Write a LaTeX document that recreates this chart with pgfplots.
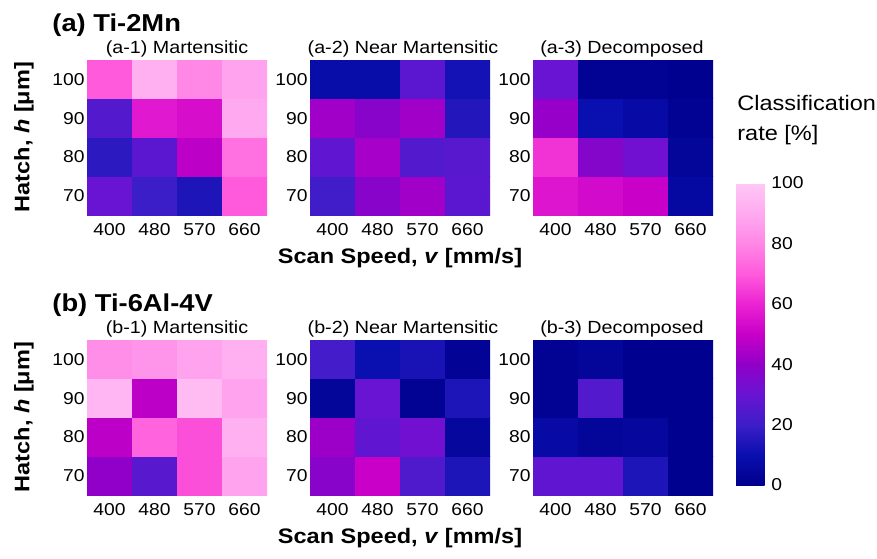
\documentclass[border=0pt]{standalone}
\usepackage{fontspec}
\setmainfont{Liberation Sans}[FakeStretch=1.12]
\usepackage{pgfplots}
\usepackage{pgfplotstable}
\pgfplotsset{compat=1.18}

\pgfplotstableread{
x y c
0 0 30
1 0 20
2 0 14
3 0 70
0 1 17
1 1 27
2 1 48
3 1 75
0 2 25
1 2 57
2 2 54
3 2 90
0 3 70
1 3 92
2 3 80
3 3 88
}\tabAone
\pgfplotstableread{
x y c
0 0 21
1 0 38
2 0 43
3 0 27
0 1 28
1 1 44
2 1 25
3 1 26
0 2 43
1 2 38
2 2 43
3 2 15
0 3 8
1 3 8
2 3 27
3 3 12
}\tabAtwo
\pgfplotstableread{
x y c
0 0 56
1 0 53
2 0 50
3 0 6
0 1 63
1 1 37
2 1 32
3 1 4
0 2 41
1 2 10
2 2 7
3 2 2
0 3 30
1 3 2
2 3 2
3 3 1
}\tabAthree
\pgfplotstableread{
x y c
0 0 40
1 0 26
2 0 68
3 0 88
0 1 48
1 1 72
2 1 68
3 1 92
0 2 94
1 2 48
2 2 96
3 2 88
0 3 82
1 3 84
2 3 88
3 3 92
}\tabBone
\pgfplotstableread{
x y c
0 0 38
1 0 50
2 0 24
3 0 14
0 1 42
1 1 28
2 1 32
3 1 5
0 2 4
1 2 30
2 2 2
3 2 14
0 3 22
1 3 10
2 3 13
3 3 3
}\tabBtwo
\pgfplotstableread{
x y c
0 0 28
1 0 28
2 0 14
3 0 1
0 1 7
1 1 4
2 1 5
3 1 1
0 2 2
1 2 25
2 2 1
3 2 1
0 3 2
1 3 4
2 3 1
3 3 1
}\tabBthree

\pgfplotsset{
  colormap={cm}{rgb255(0)=(0,0,140) rgb255(10)=(10,15,175) rgb255(20)=(60,30,200)
    rgb255(30)=(105,20,210) rgb255(40)=(145,0,200) rgb255(50)=(200,0,200)
    rgb255(60)=(235,35,210) rgb255(70)=(255,90,220) rgb255(80)=(255,135,230)
    rgb255(90)=(255,170,240) rgb255(100)=(255,200,245)},
  hm/.style={
    width=90pt, height=77.5pt, scale only axis,
    anchor=south west,
    xmin=-0.5, xmax=3.5, ymin=-0.5, ymax=3.5,
    xtick={0,1,2,3}, xticklabels={400,480,570,660},
    ytick={0,1,2,3}, yticklabels={70,80,90,100},
    tick style={draw=none},
    axis line style={draw=none},
    colormap name=cm,
    point meta min=0, point meta max=100,
    ticklabel style={font=\fontsize{8.6}{9}\selectfont},
    xticklabel style={anchor=base, yshift=-10pt, inner sep=0pt},
    yticklabel style={anchor=east, xshift=-1pt, inner sep=0pt},
  },
}

\begin{document}
\begin{tikzpicture}
\useasboundingbox (0,0) rectangle (438.5pt,-279pt);

\begin{axis}[hm, at={(43.5pt,-107.5pt)}]
\addplot[matrix plot*, mesh/cols=4, point meta=explicit] table[x=x,y=y,meta=c] {\tabAone};
\end{axis}
\begin{axis}[hm, at={(155pt,-107.5pt)}]
\addplot[matrix plot*, mesh/cols=4, point meta=explicit] table[x=x,y=y,meta=c] {\tabAtwo};
\end{axis}
\begin{axis}[hm, at={(266.5pt,-107.5pt)}]
\addplot[matrix plot*, mesh/cols=4, point meta=explicit] table[x=x,y=y,meta=c] {\tabAthree};
\end{axis}
\begin{axis}[hm, at={(43.5pt,-247.5pt)}]
\addplot[matrix plot*, mesh/cols=4, point meta=explicit] table[x=x,y=y,meta=c] {\tabBone};
\end{axis}
\begin{axis}[hm, at={(155pt,-247.5pt)}]
\addplot[matrix plot*, mesh/cols=4, point meta=explicit] table[x=x,y=y,meta=c] {\tabBtwo};
\end{axis}
\begin{axis}[hm, at={(266.5pt,-247.5pt)}]
\addplot[matrix plot*, mesh/cols=4, point meta=explicit] table[x=x,y=y,meta=c] {\tabBthree};
\end{axis}

% colorbar
\begin{axis}[at={(368.5pt,-242.5pt)}, anchor=south west,
  width=14.5pt, height=151pt, scale only axis, hide axis,
  xmin=0, xmax=1, ymin=0, ymax=1,
  colormap name=cm, point meta min=0, point meta max=100,
  colorbar,
  colorbar style={at={(parent axis.south west)}, anchor=south west,
    xshift=-9pt,
    width=14.5pt, height=151pt, scale only axis,
    ytick={0,20,40,60,80,100},
    tick style={draw=none},
    axis line style={draw=none},
    /pgf/number format/assume math mode=true,
    yticklabel style={font=\fontsize{8.6}{9}\selectfont, anchor=west, inner sep=0pt, xshift=3pt},
  },
]
\end{axis}

% texts
\node[anchor=base west, font=\bfseries\fontsize{12.2}{13}\selectfont, inner sep=0pt] at (26pt,-15.8pt) {(a) Ti-2Mn};
\node[anchor=base west, font=\bfseries\fontsize{12.2}{13}\selectfont, inner sep=0pt] at (26pt,-155.8pt) {(b) Ti-6Al-4V};

\node[anchor=base, font=\fontsize{8.8}{9}\selectfont, inner sep=0pt] at (88.5pt,-26.7pt) {(a-1) Martensitic};
\node[anchor=base, font=\fontsize{8.8}{9}\selectfont, inner sep=0pt] at (201.5pt,-26.7pt) {(a-2) Near Martensitic};
\node[anchor=base, font=\fontsize{8.8}{9}\selectfont, inner sep=0pt] at (311pt,-26.7pt) {(a-3) Decomposed};
\node[anchor=base, font=\fontsize{8.8}{9}\selectfont, inner sep=0pt] at (88.5pt,-166.7pt) {(b-1) Martensitic};
\node[anchor=base, font=\fontsize{8.8}{9}\selectfont, inner sep=0pt] at (201.5pt,-166.7pt) {(b-2) Near Martensitic};
\node[anchor=base, font=\fontsize{8.8}{9}\selectfont, inner sep=0pt] at (311pt,-166.7pt) {(b-3) Decomposed};

\node[rotate=90, font=\bfseries\fontsize{10.5}{12}\selectfont, inner sep=0pt] at (12pt,-68.5pt) {Hatch, \textit{h} [μm]};
\node[rotate=90, font=\bfseries\fontsize{10.5}{12}\selectfont, inner sep=0pt] at (12pt,-208.5pt) {Hatch, \textit{h} [μm]};

\node[anchor=base, font=\bfseries\fontsize{10.5}{12}\selectfont, inner sep=0pt] at (200pt,-131.5pt) {Scan Speed, \textit{v} [mm/s]};
\node[anchor=base, font=\bfseries\fontsize{10.5}{12}\selectfont, inner sep=0pt] at (200pt,-271.5pt) {Scan Speed, \textit{v} [mm/s]};

\node[anchor=base west, font=\fontsize{10.5}{12}\selectfont, inner sep=0pt] at (368.5pt,-55pt) {Classification};
\node[anchor=base west, font=\fontsize{10.5}{12}\selectfont, inner sep=0pt] at (368.5pt,-70pt) {rate [\%]};
\end{tikzpicture}
\end{document}
